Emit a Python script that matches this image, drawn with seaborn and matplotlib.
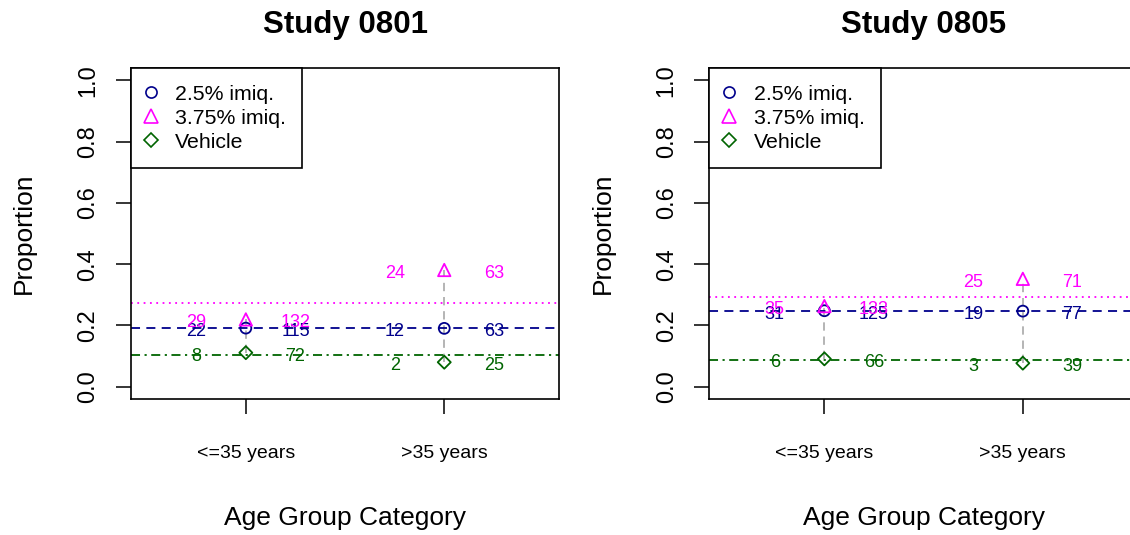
import matplotlib
matplotlib.use("Agg")
import numpy as np
import pandas as pd
import matplotlib.pyplot as plt
from matplotlib.lines import Line2D
import seaborn as sns

# Categories
age_groups = ["<=35 years", ">35 years"]
treatments = ["2.5% imiq.", "3.75% imiq.", "Vehicle"]
studies = ["Study 0801", "Study 0805"]

# Responders and subjects: one row per treatment, one column per age group
resp_0801 = [[22, 12], [29, 24], [8, 2]]
n_0801 = [[115, 63], [132, 63], [72, 25]]
resp_0805 = [[31, 19], [35, 25], [6, 3]]
n_0805 = [[125, 77], [133, 71], [66, 39]]

# Styles
colors = ["#00008B", "#FF00FF", "#006400"]
markers = ["o", "^", "D"]
marker_sizes = [62, 80, 44]
legend_ms = [8, 9.5, 7]
line_dashes = [(5, 3.5), (1, 2.5), (5, 2.5, 1.2, 2.5)]

sns.set_theme(style="white")
plt.rcParams["font.family"] = ["Liberation Sans", "DejaVu Sans"]
plt.rcParams.update({"text.color": "black", "axes.labelcolor": "black",
                     "xtick.color": "black", "ytick.color": "black",
                     "axes.titlecolor": "black"})


def make_frame(resp, n):
    rows = []
    for i, trt in enumerate(treatments):
        for j, grp in enumerate(age_groups):
            rows.append({"treatment": trt, "group": grp, "pos": j + 1,
                         "resp": resp[i][j], "n": n[i][j]})
    df = pd.DataFrame(rows)
    df["prop"] = df["resp"] / df["n"]
    return df


def draw_panel(ax, df, title):
    # pooled proportion across age groups for each arm
    pooled = df.groupby("treatment", sort=False)[["resp", "n"]].sum()
    for trt, c, d in zip(treatments, colors, line_dashes):
        p = pooled.loc[trt, "resp"] / pooled.loc[trt, "n"]
        ax.axhline(p, color=c, lw=1.3, dashes=d, zorder=2)

    # gray connector between lowest and highest arm in each group
    span = df.groupby("pos")["prop"].agg(["min", "max"])
    ax.vlines(span.index, span["min"], span["max"], colors="#a8a8a8",
              linestyles=(0, (5, 3.5)), lw=1.2, zorder=1)

    for trt, c, m, s in zip(treatments, colors, markers, marker_sizes):
        sub = df[df["treatment"] == trt]
        sns.scatterplot(data=sub, x="pos", y="prop", ax=ax, marker=m, s=s,
                        color=c, facecolors="none", edgecolor=c,
                        linewidth=1.3, zorder=3)
        for _, r in sub.iterrows():
            ax.annotate(str(r["resp"]), (r["pos"] - 0.25, r["prop"]),
                        xytext=(0, -2.5), textcoords="offset points",
                        ha="center", va="center", color=c, fontsize=13, zorder=4)
            ax.annotate(str(r["n"]), (r["pos"] + 0.25, r["prop"]),
                        xytext=(0, -2.5), textcoords="offset points",
                        ha="center", va="center", color=c, fontsize=13, zorder=4)

    ax.set_xlim(0.42, 2.58)
    ax.set_ylim(-0.04, 1.04)
    ax.set_xticks([1, 2])
    ax.set_xticklabels(age_groups, fontsize=14)
    ax.set_yticks(np.arange(0, 1.01, 0.2))
    ax.set_yticklabels([f"{v:.1f}" for v in np.arange(0, 1.01, 0.2)], fontsize=17)
    for lab in ax.get_yticklabels():
        lab.set_rotation(90)
        lab.set_va("center")
    ax.tick_params(axis="both", direction="out", length=10.8, width=1.1,
                   color="black", left=True, bottom=True)
    ax.tick_params(axis="x", pad=22)
    ax.tick_params(axis="y", pad=12)
    for sp in ax.spines.values():
        sp.set_visible(True)
        sp.set_color("black")
        sp.set_linewidth(1.2)

    ax.set_title(title, fontsize=22.5, fontweight="bold", pad=25)
    ax.set_ylabel("Proportion", fontsize=19)
    ax.yaxis.set_label_coords(-0.249, 0.5)
    ax.yaxis.label.set_va("center")
    ax.set_xlabel("Age Group Category", fontsize=19)
    ax.xaxis.set_label_coords(0.5, -0.36)
    ax.xaxis.label.set_va("center")

    handles = [Line2D([], [], ls="none", marker=m, mfc="none", mec=c, mew=1.2, ms=ms)
               for c, m, ms in zip(colors, markers, legend_ms)]
    leg = ax.legend(handles, treatments, loc="upper left", fontsize=15.3,
                    frameon=True, fancybox=False, edgecolor="black",
                    framealpha=1, borderaxespad=0, borderpad=0.78,
                    labelspacing=0.24, handlelength=0.3, handletextpad=1.0)
    leg.get_frame().set_linewidth(1.2)


fig, axes = plt.subplots(1, 2, figsize=(11.3, 5.35), dpi=100)
fig.patch.set_facecolor("white")
axes[0].set_position([0.1157, 0.2542, 0.3793, 0.6187])
axes[1].set_position([0.6277, 0.2542, 0.3793, 0.6187])

for ax, resp, n, title in zip(axes, [resp_0801, resp_0805], [n_0801, n_0805], studies):
    draw_panel(ax, make_frame(resp, n), title)

fig.savefig("out.png", dpi=100, facecolor="white")
